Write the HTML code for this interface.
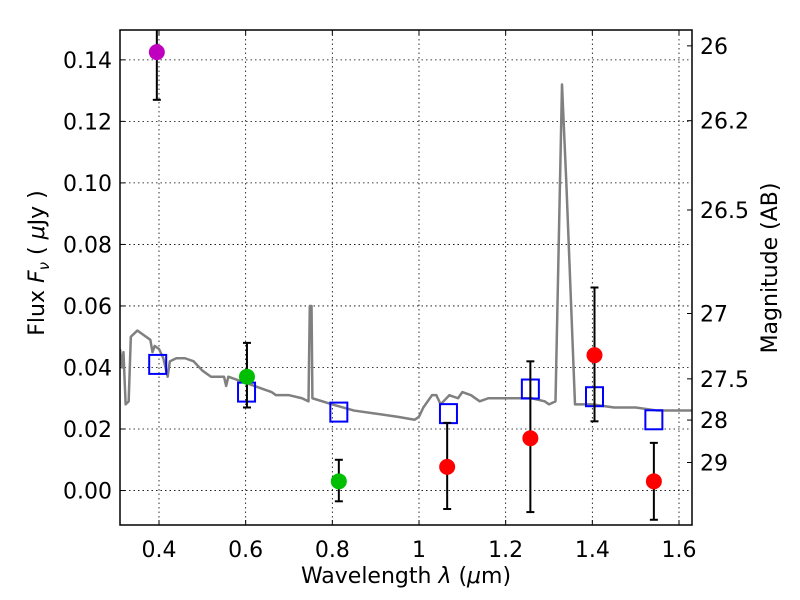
<!DOCTYPE html>
<html><head><meta charset="utf-8"><style>body{margin:0;background:#fff}svg{display:block;font-family:"DejaVu Sans","Liberation Sans",sans-serif}</style></head>
<body>
<svg id="chart" width="800" height="600"></svg>
<script>
const specX=[0.31,0.315,0.318,0.323,0.33,0.335,0.35,0.36,0.38,0.385,0.39,0.40,0.41,0.42,0.425,0.44,0.46,0.48,0.50,0.52,0.55,0.555,0.56,0.58,0.60,0.62,0.64,0.66,0.67,0.70,0.73,0.745,0.748,0.752,0.754,0.80,0.85,0.90,0.95,0.99,1.00,1.01,1.03,1.04,1.05,1.07,1.09,1.10,1.12,1.14,1.16,1.2,1.26,1.29,1.30,1.315,1.33,1.34,1.36,1.40,1.45,1.50,1.55,1.58,1.63];
const specY=[0.046,0.040,0.045,0.028,0.029,0.050,0.052,0.051,0.049,0.045,0.047,0.046,0.043,0.037,0.042,0.043,0.043,0.042,0.039,0.037,0.037,0.034,0.037,0.036,0.035,0.034,0.033,0.032,0.031,0.031,0.030,0.029,0.060,0.060,0.030,0.028,0.026,0.025,0.024,0.023,0.024,0.027,0.031,0.031,0.028,0.031,0.030,0.032,0.031,0.029,0.030,0.030,0.030,0.029,0.028,0.029,0.132,0.10,0.028,0.028,0.027,0.027,0.026,0.026,0.026];
const obsX=[0.395,0.603,0.815,1.065,1.257,1.405,1.542];
const obsY=[0.1425,0.037,0.003,0.0077,0.017,0.044,0.003];
const errLo=[0.127,0.027,-0.0035,-0.006,-0.007,0.0225,-0.0095];
const errHi=[0.152,0.048,0.010,0.022,0.042,0.066,0.0155];
const obsColor=['#bf00bf','#00bf00','#00bf00','#ff0000','#ff0000','#ff0000','#ff0000'];
const modX=[0.397,0.602,0.815,1.068,1.257,1.405,1.542];
const modY=[0.041,0.032,0.0255,0.025,0.033,0.0305,0.023];
const xTicks=[0.4,0.6,0.8,1.0,1.2,1.4,1.6];
const xTickLabels=['0.4','0.6','0.8','1','1.2','1.4','1.6'];
const yTicks=[0,0.02,0.04,0.06,0.08,0.10,0.12,0.14];
const yTickLabels=['0.00','0.02','0.04','0.06','0.08','0.10','0.12','0.14'];
const magTicks=[26,26.2,26.5,27,27.5,28,29];
const magLabels=['26','26.2','26.5','27','27.5','28','29'];

const L=120,R=692,T=30,B=525,X0=0.31,X1=1.63,Y0=-0.0112,Y1=0.1497;
const sx=v=>L+(v-X0)/(X1-X0)*(R-L);
const sy=v=>B-(v-Y0)/(Y1-Y0)*(B-T);
const svg=document.getElementById('chart');
const NS='http://www.w3.org/2000/svg';
function mk(tag,attrs,parent){const e=document.createElementNS(NS,tag);for(const k in attrs)e.setAttribute(k,attrs[k]);(parent||svg).appendChild(e);return e;}
const clip=mk('clipPath',{id:'pc'});mk('rect',{x:L,y:T,width:R-L,height:B-T},clip);
xTicks.forEach((v,i)=>{const x=sx(v);
 const g=mk('line',{x1:x,x2:x,y1:T,y2:B,stroke:'#000','stroke-width':0.8,'stroke-dasharray':'1.5,3'});
 
 mk('line',{x1:x,x2:x,y1:B,y2:B-5,stroke:'#000'});mk('line',{x1:x,x2:x,y1:T,y2:T+5,stroke:'#000'});
 const t=mk('text',{x:x,y:B+32,'font-size':22,'text-anchor':'middle'});t.textContent=xTickLabels[i];
 });
yTicks.forEach((v,i)=>{const y=sy(v);
 const g=mk('line',{x1:L,x2:R,y1:y,y2:y,stroke:'#000','stroke-width':0.8,'stroke-dasharray':'1.5,3'});
 
 mk('line',{x1:L,x2:L+5,y1:y,y2:y,stroke:'#000'});
 const t=mk('text',{x:L-8,y:y+8,'font-size':22,'text-anchor':'end'});t.textContent=yTickLabels[i];
 });
magTicks.forEach((m,i)=>{const y=sy(Math.pow(10,(23.9-m)/2.5));
 mk('line',{x1:R,x2:R-5,y1:y,y2:y,stroke:'#000'});
 const t=mk('text',{x:R+8,y:y+8,'font-size':22});t.textContent=magLabels[i];
 });
const g=mk('g',{'clip-path':'url(#pc)'});
const sp=mk('polyline',{points:specX.map((x,i)=>sx(x)+','+sy(specY[i])).join(' '),fill:'none',stroke:'#808080','stroke-width':2.5,'stroke-linejoin':'round'},g);

modX.forEach((x,i)=>{const r=mk('rect',{x:sx(x)-8.5,y:sy(modY[i])-9.5,width:17,height:19,fill:'none',stroke:'#0000ff','stroke-width':2},g);
 });
obsX.forEach((x,i)=>{const px=sx(x);
 const e=mk('g',{},g);
 mk('line',{x1:px,x2:px,y1:sy(errLo[i]),y2:sy(errHi[i]),stroke:'#000','stroke-width':2},e);
 mk('line',{x1:px-4,x2:px+4,y1:sy(errLo[i]),y2:sy(errLo[i]),stroke:'#000','stroke-width':2},e);
 mk('line',{x1:px-4,x2:px+4,y1:sy(errHi[i]),y2:sy(errHi[i]),stroke:'#000','stroke-width':2},e);
 const c=mk('circle',{cx:px,cy:sy(obsY[i]),r:8,fill:obsColor[i]},g);
 });
const fr=mk('rect',{x:L,y:T,width:R-L,height:B-T,fill:'none',stroke:'#000','stroke-width':1.5});

let t=mk('text',{x:406,y:583,'font-size':22,'text-anchor':'middle'});t.innerHTML='Wavelength  <tspan font-style="italic">λ</tspan> (<tspan font-style="italic">μ</tspan>m)';

t=mk('text',{x:0,y:0,'font-size':22,'text-anchor':'middle',transform:'translate(44,263) rotate(-90)'});t.innerHTML='Flux  <tspan font-style="italic">F</tspan><tspan font-style="italic" font-size="15" dy="5">ν</tspan><tspan dy="-5">  ( </tspan><tspan font-style="italic">μ</tspan>Jy )';

t=mk('text',{x:0,y:0,'font-size':22,'text-anchor':'middle',transform:'translate(777,268) rotate(-90)'});t.textContent='Magnitude (AB)';

</script>
</body></html>
